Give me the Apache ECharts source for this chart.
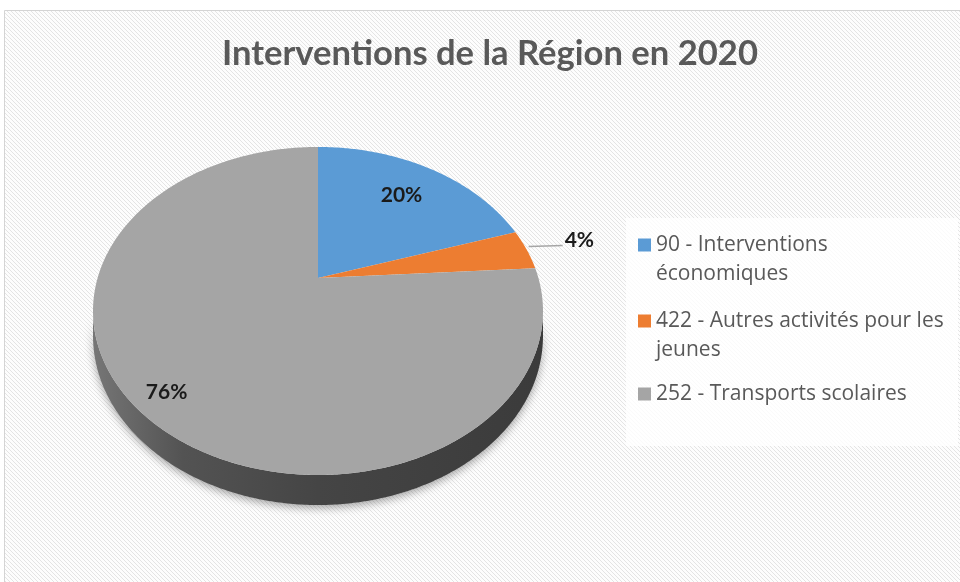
<!DOCTYPE html>
<html>
<head>
<meta charset="utf-8">
<style>
html, body { margin: 0; background: #fff; }
#chart { width: 960px; height: 582px; }
</style>
<script src="https://cdn.jsdelivr.net/npm/echarts@6/dist/echarts.min.js"></script>
</head>
<body>
<div id="chart"></div>
<script>
const categories = ['90 - Interventions économiques', '422 - Autres activités pour les jeunes', '252 - Transports scolaires']
const legendLabels = ['90 - Interventions\néconomiques', '422 - Autres activités pour les\njeunes', '252 - Transports scolaires']
const values = [20, 4, 76]
const colors = ['#5b9bd5', '#ed7d31', '#a5a5a5']

const FONT = 'Lato'
const total = values.reduce((a, b) => a + b, 0)
// perspective of the pie top : centre, half axes, tilt, thickness
const PIE = { cx: 318, cy: 278, a: 220.4, b: 157.4, k: -0.201, depth: 30 }
const labelRadius = [0.72, 1, 0.875]
const thR = Math.acos(PIE.k)
const thL = Math.PI * 2 - thR

function proj(theta, r) {
	const u = r * Math.sin(theta)
	const v = -r * Math.cos(theta)
	const w = 1 + PIE.k * v
	return [PIE.cx + PIE.a * u / w, PIE.cy + PIE.b * v / w, w]
}

function renderSlice(i) {
	return function () {
		let start = 0
		for (let j = 0; j < i; j++) start += values[j] / total * Math.PI * 2
		const end = start + values[i] / total * Math.PI * 2
		const children = []

		// top face
		const top = [[PIE.cx, PIE.cy]]
		const steps = Math.max(2, Math.ceil((end - start) / 0.01))
		for (let s = 0; s <= steps; s++) {
			const p = proj(start + (end - start) * s / steps, 1)
			top.push([p[0], p[1]])
		}
		children.push({ type: 'polygon', shape: { points: top }, style: { fill: colors[i] }, z2: 10 })

		// visible side wall
		const fs = Math.max(start, thR)
		const fe = Math.min(end, thL)
		if (fe > fs) {
			const upper = []
			const lower = []
			const n = Math.ceil((fe - fs) / 0.01)
			for (let s = 0; s <= n; s++) {
				const p = proj(fs + (fe - fs) * s / n, 1)
				const d = PIE.depth * (1 + PIE.k) / p[2]
				upper.push([p[0], p[1]])
				lower.push([p[0], p[1] + d])
			}
			children.push({
				type: 'polygon',
				shape: { points: upper.concat(lower.reverse()) },
				style: {
					fill: new echarts.graphic.LinearGradient(1, 0, 0, 0, [
						{ offset: 0, color: '#3b3b3b' },
						{ offset: 0.5, color: '#454545' },
						{ offset: 0.8, color: '#535353' },
						{ offset: 1, color: '#767676' }
					]),
					shadowBlur: 8,
					shadowColor: 'rgba(0,0,0,0.35)',
					shadowOffsetY: 3
				},
				z2: 1
			})
		}

		// label
		const mid = (start + end) / 2
		const pct = Math.round(values[i] / total * 100) + '%'
		const font = { fontFamily: FONT, fontWeight: 'bold', fontSize: 21, fill: '#1a1a1a' }
		if (labelRadius[i] < 1) {
			const p = proj(mid, labelRadius[i])
			children.push({ type: 'text', style: { ...font, text: pct, x: p[0], y: p[1] - 1, align: 'center', verticalAlign: 'middle' }, z2: 20 })
		} else {
			const p = proj(mid, 1)
			children.push({ type: 'line', shape: { x1: p[0] + 2, y1: p[1] - 3, x2: p[0] + 36, y2: p[1] - 4 }, style: { stroke: '#a6a6a6', lineWidth: 1.5 }, z2: 20 })
			children.push({ type: 'text', style: { ...font, text: pct, x: p[0] + 38, y: p[1] - 9, align: 'left', verticalAlign: 'middle' }, z2: 20 })
		}
		return { type: 'group', children }
	}
}

const tile = document.createElement('canvas')
tile.width = 4
tile.height = 4
const tc = tile.getContext('2d')
tc.fillStyle = '#fdfdfd'
tc.fillRect(0, 0, 4, 4)
tc.fillStyle = '#e4e4e4'
for (let p = 0; p < 4; p++) tc.fillRect(p, p, 1, 1)

const legendIconY = [245, 321, 394]
const LINE_H = 29

const chart = echarts.init(document.getElementById('chart'))
chart.setOption({
	animation: false,
	graphic: [
		{ type: 'rect', z: -10, shape: { x: 4.5, y: 10.5, width: 960, height: 580 }, style: { fill: { image: tile, repeat: 'repeat' }, stroke: '#d4d4d4', lineWidth: 1 } },
		{ type: 'rect', z: -9, shape: { x: 626, y: 218, width: 332, height: 228 }, style: { fill: 'rgba(255,255,255,0.8)' } }
	],
	title: {
		text: 'Interventions de la Région en 2020',
		left: 222,
		top: 36,
		padding: 0,
		textStyle: { fontFamily: FONT, fontWeight: 'bold', fontSize: 34.6, color: '#595959' }
	},
	legend: categories.map((name, i) => {
		// a blank first line keeps the icon in front of the first text line
		const twoLines = legendLabels[i].indexOf('\n') >= 0
		const text = twoLines ? '\u00a0\n' + legendLabels[i] : legendLabels[i]
		const h = twoLines ? LINE_H * 3 : LINE_H
		return {
			data: [name],
			orient: 'vertical',
			left: 638,
			top: legendIconY[i] - h / 2,
			padding: 0,
			icon: 'rect',
			itemWidth: 13,
			itemHeight: 13,
			selectedMode: false,
			formatter: () => text,
			textStyle: {
				fontFamily: 'Open Sans',
				fontSize: 21,
				color: '#595959',
				lineHeight: LINE_H
			}
		}
	}),
	series: categories.map((name, i) => ({
		type: 'custom',
		name,
		coordinateSystem: 'none',
		silent: true,
		itemStyle: { color: colors[i] },
		data: [values[i]],
		renderItem: renderSlice(i)
	}))
})
</script>
</body>
</html>
